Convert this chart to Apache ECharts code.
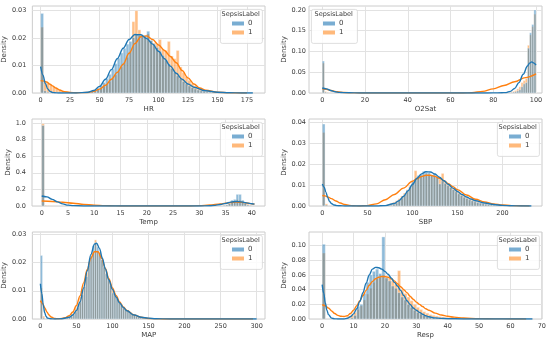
<!DOCTYPE html>
<html><head><meta charset="utf-8">
<script src="https://cdn.jsdelivr.net/npm/echarts@6/dist/echarts.min.js"></script>
<style>html,body{margin:0;padding:0;background:#fff}#c{width:549px;height:344px}</style>
</head><body><div id="c"></div>
<script>
// ================= DATA =================
const hueLabels = ['0', '1'];
const legendTitle = 'SepsisLabel';

// ---- HR ----
const hrXTicks = [0, 25, 50, 75, 100, 125, 150, 175];
const hrYTicks = [0, 0.01, 0.02, 0.03];
const hrBinWidth = 2.5, hrBinStart = 0;
const hrHist0 = [0.029,0.0008,0.0003,0.0002,0.0001,0.0001,0.0001,0,0,0,0,0,0,0,0,0.0001,0.0003,0.0006,0.001,0.0017,
  0.0027,0.0038,0.0052,0.0068,0.0087,0.0107,0.0127,0.0146,0.0163,0.0178,0.0188,0.0202,0.0215,0.021,0.0205,0.021,0.0225,0.0192,0.0178,0.0166,
  0.0152,0.0137,0.012,0.0106,0.009,0.0076,0.0063,0.0052,0.0042,0.0034,0.0026,0.002,0.0015,0.0011,0.0008,0.0006,0.0004,0.0003,0.0002,0.00015,0.0001,0.0001];
const hrHist1 = [0.024,0.004,0.0035,0.003,0.0024,0.0018,0.0012,0.0008,0.0005,0.0003,0.0002,0.0001,0.0001,0.0001,0.0001,0.0002,0.0003,0.0005,0.0008,0.0012,
  0.0017,0.0024,0.0032,0.0042,0.0053,0.0066,0.008,0.0095,0.0112,0.013,0.0152,0.026,0.030,0.023,0.021,0.0205,0.0215,0.019,0.0182,0.0175,
  0.0195,0.016,0.0155,0.0188,0.0135,0.0125,0.0155,0.0095,0.0075,0.006,0.0046,0.0035,0.0026,0.0019,0.0014,0.001,0.0007,0.0005,0.0004,0.0003,0.0002,0.0001];
const hrKdeX0 = [0,2,4,6,8,10,12,15,20,30,40,45,50,55,60,65,70,75,80,85,90,95,100,105,110,115,120,125,130,140,150,160,170,180];
const hrKdeY0 = [0.0096,0.0065,0.0035,0.0015,0.0006,0.0002,0.0001,0,0,0,0.0003,0.0009,0.0024,0.005,0.0085,0.0125,0.0163,0.0195,0.0213,0.0212,0.0198,0.0178,0.0152,0.0125,0.0098,0.0072,0.005,0.0033,0.0021,0.0008,0.0003,0.0001,0,0];
const hrKdeX1 = [0,2,5,8,10,13,16,20,25,30,40,45,50,55,60,65,70,75,80,85,90,95,100,105,110,115,120,125,130,135,140,150,160,175];
const hrKdeY1 = [0.0045,0.0044,0.004,0.0032,0.0026,0.0018,0.0011,0.0005,0.0002,0.0001,0.0002,0.0006,0.0014,0.0028,0.005,0.0075,0.0105,0.0145,0.018,0.0205,0.0208,0.0195,0.0175,0.0155,0.0133,0.011,0.0082,0.0055,0.0033,0.0018,0.001,0.0003,0.0001,0];

// ---- O2Sat ----
const o2XTicks = [0, 20, 40, 60, 80, 100];
const o2YTicks = [0, 0.05, 0.10, 0.15, 0.20];
const o2BinWidth = 1;
const o2BinLeft = [0,1,2,3,88,89,90,91,92,93,94,95,96,97,98,99];
const o2Hist0 = [0.077,0.002,0.001,0.0005,0.001,0.002,0.003,0.005,0.008,0.015,0.022,0.025,0.108,0.145,0.165,0.20];
const o2Hist1 = [0.072,0.004,0.002,0.001,0.003,0.004,0.006,0.01,0.015,0.025,0.03,0.035,0.115,0.14,0.16,0.19];
const o2KdeX0 = [0,2,4,6,8,10,15,20,40,60,75,80,84,86,88,90,92,94,96,97,98,99,100];
const o2KdeY0 = [0.012,0.01,0.006,0.003,0.0015,0.0008,0.0002,0,0,0,0,0.0002,0.0006,0.001,0.004,0.011,0.025,0.045,0.065,0.072,0.075,0.072,0.067];
const o2KdeX1 = [0,2,4,7,10,15,20,40,60,66,70,75,80,85,90,95,100];
const o2KdeY1 = [0.01,0.009,0.006,0.003,0.0012,0.0003,0,0,0,0,0.0006,0.004,0.01,0.018,0.027,0.037,0.046];

// ---- Temp ----
const tempXTicks = [0, 5, 10, 15, 20, 25, 30, 35, 40];
const tempYTicks = [0, 0.2, 0.4, 0.6, 0.8, 1.0];
const tempBinWidth = 0.5;
const tempBinLeft = [0,0.5,1,34,34.5,35,35.5,36,36.5,37,37.5,38,38.5,39,39.5,40];
const tempHist0 = [0.97,0.003,0.002,0.004,0.008,0.015,0.03,0.07,0.08,0.14,0.14,0.07,0.03,0.012,0.006,0.003];
const tempHist1 = [0.99,0.01,0.008,0.006,0.01,0.015,0.03,0.05,0.06,0.075,0.07,0.055,0.04,0.025,0.012,0.005];
const tempKdeX0 = [0,1,2,3,4,5,6,8,10,30,32,33,34,35,36,37,38,39,40,40.5];
const tempKdeY0 = [0.12,0.11,0.08,0.05,0.025,0.01,0.004,0.0005,0,0,0.003,0.008,0.018,0.032,0.047,0.055,0.05,0.038,0.027,0.022];
const tempKdeX1 = [0,2,4,6,8,10,12,14,16,28,30,32,34,35,36,37,38,39,40,40.5];
const tempKdeY1 = [0.06,0.055,0.045,0.033,0.02,0.01,0.004,0.001,0,0,0.004,0.012,0.025,0.033,0.042,0.047,0.044,0.036,0.026,0.022];

// ---- SBP ----
const sbpXTicks = [0, 50, 100, 150, 200];
const sbpYTicks = [0, 0.01, 0.02, 0.03, 0.04];
const sbpBinWidth = 3, sbpBinStart = 72;
const sbpSpike0 = [0.039, 0.0004], sbpSpike1 = [0.035, 0.001]; // bins [0,3) and [3,6)
const sbpHist0 = [0.0002,0.0004,0.0008,0.0015,0.0025,0.0038,0.0055,0.0075,0.009,0.0115,0.0128,0.0145,0.0152,0.0165,0.016,0.0158,0.0148,0.0155,0.014,0.0105,
  0.012,0.0108,0.0097,0.0088,0.0078,0.0068,0.0058,0.005,0.0042,0.0036,0.003,0.0025,0.002,0.0017,0.0014,0.0011,0.0009,0.0007,0.0005,0.0004,0.0003,0.00025,0.0002,0.0001,0.0001];
const sbpHist1 = [0.0008,0.0012,0.0018,0.0025,0.0035,0.0048,0.0062,0.0078,0.0095,0.011,0.0168,0.0135,0.0145,0.0148,0.015,0.0147,0.0145,0.014,0.0138,0.0128,
  0.0155,0.0118,0.0105,0.0095,0.0085,0.0075,0.0066,0.0057,0.0049,0.0041,0.0034,0.0028,0.0023,0.0019,0.0015,0.0012,0.001,0.0008,0.0006,0.0005,0.0004,0.0003,0.0002,0.0001,0.0001];
const sbpKdeX0 = [0,2,4,6,8,10,13,16,20,25,60,70,80,85,90,95,100,105,110,115,120,125,130,135,140,145,150,155,160,165,170,180,190,200,210,220,232];
const sbpKdeY0 = [0.0105,0.009,0.0065,0.004,0.0022,0.0012,0.0005,0.0002,0.0001,0,0,0.0002,0.0012,0.0025,0.0045,0.0072,0.0102,0.0132,0.0153,0.0163,0.0162,0.0152,0.0137,0.012,0.0102,0.0085,0.0069,0.0055,0.0043,0.0033,0.0025,0.0014,0.0007,0.0003,0.0001,0,0];
const sbpKdeX1 = [0,3,6,10,15,20,25,30,35,40,50,60,70,80,90,100,105,110,115,120,125,130,135,140,145,150,160,170,180,190,200,210,220,230];
const sbpKdeY1 = [0.005,0.0048,0.0043,0.0035,0.0024,0.0014,0.0007,0.0003,0.0001,0,0.0002,0.001,0.003,0.0055,0.0085,0.0118,0.013,0.014,0.0146,0.0146,0.0141,0.0132,0.012,0.0106,0.0092,0.0078,0.0052,0.0032,0.0019,0.001,0.0005,0.0002,0.0001,0];

// ---- MAP ----
const mapXTicks = [0, 50, 100, 150, 200, 250, 300];
const mapYTicks = [0, 0.01, 0.02, 0.03];
const mapBinWidth = 3, mapBinStart = 30;
const mapSpike0 = [0.0225, 0.0003], mapSpike1 = [0.011, 0.001];
const mapHist0 = [0.0001,0.0002,0.0003,0.0005,0.0009,0.0015,0.0025,0.004,0.006,0.0085,0.0115,0.015,0.019,0.0225,0.026,0.027,0.0255,0.0235,0.021,0.0185,
  0.016,0.0138,0.0118,0.0092,0.0085,0.0072,0.006,0.005,0.0041,0.0033,0.0027,0.0022,0.0017,0.0013,0.001,0.0008,0.0006,0.0005,0.0004,0.0003,0.0002,0.00015,0.0001];
const mapHist1 = [0.0002,0.0004,0.0007,0.0011,0.0017,0.0026,0.0038,0.0055,0.0078,0.0105,0.0135,0.0165,0.0195,0.022,0.0235,0.028,0.024,0.0235,0.021,0.0185,
  0.016,0.014,0.012,0.0105,0.009,0.0075,0.0062,0.0052,0.0043,0.0035,0.0028,0.0022,0.0017,0.0013,0.001,0.0008,0.0006,0.0004,0.0003,0.0002,0.00015,0.0001,0.0001];
const mapKdeX0 = [0,2,4,6,8,10,14,20,30,40,45,50,55,60,65,70,75,78,82,86,90,95,100,105,110,115,120,130,140,150,160,180,300];
const mapKdeY0 = [0.0125,0.009,0.005,0.0022,0.0009,0.0003,0.0001,0,0.0001,0.0006,0.0014,0.003,0.006,0.011,0.017,0.0228,0.0265,0.0268,0.025,0.0215,0.0178,0.0138,0.0105,0.0078,0.0057,0.0041,0.0029,0.0014,0.0006,0.0003,0.0001,0,0];
const mapKdeX1 = [0,3,6,9,12,15,20,25,30,35,40,45,50,55,60,65,70,75,80,85,90,95,100,105,110,115,120,130,140,150,160,170,295];
const mapKdeY1 = [0.0065,0.0055,0.004,0.0025,0.0014,0.0007,0.0002,0.0001,0.0002,0.0005,0.0012,0.0025,0.0048,0.0082,0.0128,0.0175,0.0215,0.0238,0.0238,0.0215,0.018,0.0143,0.011,0.0083,0.006,0.0043,0.003,0.0014,0.0006,0.0002,0.0001,0,0];

// ---- Resp ----
const respXTicks = [0, 10, 20, 30, 40, 50, 60, 70];
const respYTicks = [0, 0.02, 0.04, 0.06, 0.08, 0.10];
const respBinWidth = 1, respBinStart = 8;
const respSpike0 = [0.102], respSpike1 = [0.09];
const respHist0 = [0.0005,0.0015,0.005,0.017,0.02,0.035,0.05,0.06,0.065,0.068,0.062,0.112,0.056,0.052,0.045,0.042,0.036,0.03,0.026,0.02,
  0.016,0.012,0.009,0.007,0.005,0.0038,0.0028,0.002,0.0015,0.0011,0.0008,0.0006,0.0005,0.0004,0.0003,0.0002,0.0001];
const respHist1 = [0.004,0.006,0.009,0.013,0.018,0.026,0.034,0.042,0.05,0.055,0.057,0.058,0.058,0.055,0.052,0.047,0.066,0.04,0.035,0.03,
  0.025,0.02,0.016,0.013,0.01,0.008,0.006,0.005,0.004,0.0032,0.0026,0.002,0.0017,0.003,0.0012,0.0009,0.0007];
const respKdeX0 = [0,0.5,1,1.5,2,3,4,5,7,8,9,10,11,12,13,14,15,16,17,18,19,20,21,22,23,24,25,26,27,28,29,30,31,32,33,34,36,38,40,45,50,67];
const respKdeY0 = [0.047,0.035,0.022,0.012,0.006,0.0012,0.0002,0,0,0.001,0.003,0.007,0.014,0.024,0.036,0.049,0.06,0.068,0.0705,0.07,0.068,0.065,0.061,0.056,0.05,0.045,0.039,0.032,0.025,0.02,0.015,0.012,0.009,0.0065,0.0045,0.003,0.0015,0.0008,0.0004,0.0001,0,0];
const respKdeX1 = [0,1,2,3,4,5,6,7,8,9,10,11,12,13,14,15,16,17,18,19,20,21,22,23,24,25,26,27,28,29,30,31,32,33,34,36,38,40,42,45,50,55,60,65];
const respKdeY1 = [0.0195,0.018,0.015,0.011,0.0075,0.005,0.0038,0.0035,0.0045,0.0075,0.012,0.018,0.025,0.032,0.039,0.046,0.051,0.055,0.057,0.058,0.058,0.057,0.055,0.052,0.048,0.044,0.04,0.036,0.031,0.027,0.023,0.02,0.017,0.014,0.012,0.008,0.0055,0.0037,0.0025,0.0013,0.0005,0.0002,0.0001,0];

// ================= BUILD =================
function lefts(start, width, n) { const a = []; for (let i = 0; i < n; i++) a.push(start + i * width); return a; }
function bins(leftArr, width, heights) { return heights.map((h, i) => [leftArr[i], leftArr[i] + width, h]); }

const panels = [
  { xName: 'HR', xMin: -7, xMax: 190.3, yMax: 0.0317, xTicks: hrXTicks, yTicks: hrYTicks, yDec: 2, legendLeft: false,
    b0: bins(lefts(hrBinStart, hrBinWidth, hrHist0.length), hrBinWidth, hrHist0),
    b1: bins(lefts(hrBinStart, hrBinWidth, hrHist1.length), hrBinWidth, hrHist1),
    k0: [hrKdeX0, hrKdeY0], k1: [hrKdeX1, hrKdeY1] },
  { xName: 'O2Sat', xMin: -6.2, xMax: 102.8, yMax: 0.2096, xTicks: o2XTicks, yTicks: o2YTicks, yDec: 2, legendLeft: true,
    b0: bins(o2BinLeft, o2BinWidth, o2Hist0), b1: bins(o2BinLeft, o2BinWidth, o2Hist1),
    k0: [o2KdeX0, o2KdeY0], k1: [o2KdeX1, o2KdeY1] },
  { xName: 'Temp', xMin: -1.85, xMax: 42.5, yMax: 1.048, xTicks: tempXTicks, yTicks: tempYTicks, yDec: 1, legendLeft: false,
    b0: bins(tempBinLeft, tempBinWidth, tempHist0), b1: bins(tempBinLeft, tempBinWidth, tempHist1),
    k0: [tempKdeX0, tempKdeY0], k1: [tempKdeX1, tempKdeY1] },
  { xName: 'SBP', xMin: -14.8, xMax: 243.8, yMax: 0.0414, xTicks: sbpXTicks, yTicks: sbpYTicks, yDec: 2, legendLeft: false,
    b0: bins([0, 3], sbpBinWidth, sbpSpike0).concat(bins(lefts(sbpBinStart, sbpBinWidth, sbpHist0.length), sbpBinWidth, sbpHist0)),
    b1: bins([0, 3], sbpBinWidth, sbpSpike1).concat(bins(lefts(sbpBinStart, sbpBinWidth, sbpHist1.length), sbpBinWidth, sbpHist1)),
    k0: [sbpKdeX0, sbpKdeY0], k1: [sbpKdeX1, sbpKdeY1] },
  { xName: 'MAP', xMin: -11.1, xMax: 311.6, yMax: 0.0308, xTicks: mapXTicks, yTicks: mapYTicks, yDec: 2, legendLeft: false,
    b0: bins([0, 3], mapBinWidth, mapSpike0).concat(bins(lefts(mapBinStart, mapBinWidth, mapHist0.length), mapBinWidth, mapHist0)),
    b1: bins([0, 3], mapBinWidth, mapSpike1).concat(bins(lefts(mapBinStart, mapBinWidth, mapHist1.length), mapBinWidth, mapHist1)),
    k0: [mapKdeX0, mapKdeY0], k1: [mapKdeX1, mapKdeY1] },
  { xName: 'Resp', xMin: -4.2, xMax: 70.0, yMax: 0.1187, xTicks: respXTicks, yTicks: respYTicks, yDec: 2, legendLeft: false,
    b0: bins([0], respBinWidth, respSpike0).concat(bins(lefts(respBinStart, respBinWidth, respHist0.length), respBinWidth, respHist0)),
    b1: bins([0], respBinWidth, respSpike1).concat(bins(lefts(respBinStart, respBinWidth, respHist1.length), respBinWidth, respHist1)),
    k0: [respKdeX0, respKdeY0], k1: [respKdeX1, respKdeY1] }
];

const BLUE = '#1f77b4', ORANGE = '#ff7f0e';
const BLUE_FILL = 'rgba(31,119,180,0.5)', ORANGE_FILL = 'rgba(255,127,14,0.5)';
const FONT = 'DejaVu Sans';
const TXT = '#3a3a3a';
const colLeft = [32, 309], rowTop = [6, 119, 232], GW = 233, GH = 87;

function makeRender(fill) {
  return function (params, api) {
    const x0 = api.value(0), x1 = api.value(1), h = api.value(2);
    const a = api.coord([x0, h]), b = api.coord([x1, 0]);
    return { type: 'rect', shape: { x: a[0], y: a[1], width: b[0] - a[0], height: b[1] - a[1] },
      style: { fill: fill, stroke: 'rgba(255,255,255,0.85)', lineWidth: 0.4 } };
  };
}

const grid = [], xAxis = [], yAxis = [], series = [], legend = [], graphic = [];
panels.forEach((p, i) => {
  const col = i % 2, row = Math.floor(i / 2);
  const gl = colLeft[col], gt = rowTop[row];
  grid.push({ left: gl, top: gt, width: GW, height: GH, show: true, borderColor: '#cccccc', borderWidth: 1, backgroundColor: '#fff' });
  xAxis.push({ type: 'value', gridIndex: i, min: p.xMin, max: p.xMax, name: p.xName, nameLocation: 'middle', nameGap: 13,
    nameTextStyle: { fontFamily: FONT, fontSize: 7, color: TXT },
    axisLine: { show: false }, axisTick: { show: false, customValues: p.xTicks },
    axisLabel: { customValues: p.xTicks, fontFamily: FONT, fontSize: 6.5, color: TXT, margin: 4, formatter: v => String(v) },
    splitLine: { show: true, lineStyle: { color: '#e2e2e2', width: 1 } } });
  yAxis.push({ type: 'value', gridIndex: i, min: 0, max: p.yMax, name: 'Density', nameLocation: 'middle', nameGap: col === 0 ? 20 : 15,
    nameTextStyle: { fontFamily: FONT, fontSize: 7, color: TXT },
    axisLine: { show: false }, axisTick: { show: false, customValues: p.yTicks },
    axisLabel: { customValues: p.yTicks, fontFamily: FONT, fontSize: 6.5, color: TXT, margin: col === 0 ? 6 : 3, formatter: v => v.toFixed(p.yDec) },
    splitLine: { show: true, lineStyle: { color: '#e2e2e2', width: 1 } } });
  series.push({ type: 'custom', name: hueLabels[1], xAxisIndex: i, yAxisIndex: i, renderItem: makeRender(ORANGE_FILL),
    data: p.b1, encode: { x: [0, 1], y: 2 }, z: 2, silent: true, clip: true });
  series.push({ type: 'custom', name: hueLabels[0], xAxisIndex: i, yAxisIndex: i, renderItem: makeRender(BLUE_FILL),
    data: p.b0, encode: { x: [0, 1], y: 2 }, z: 2, silent: true, clip: true });
  series.push({ type: 'line', name: hueLabels[1], xAxisIndex: i, yAxisIndex: i, data: p.k1[0].map((x, j) => [x, p.k1[1][j]]),
    showSymbol: false, smooth: 0.35, smoothMonotone: 'x', lineStyle: { color: ORANGE, width: 1.4 }, itemStyle: { color: ORANGE }, z: 3, silent: true });
  series.push({ type: 'line', name: hueLabels[0], xAxisIndex: i, yAxisIndex: i, data: p.k0[0].map((x, j) => [x, p.k0[1][j]]),
    showSymbol: false, smooth: 0.35, smoothMonotone: 'x', lineStyle: { color: BLUE, width: 1.4 }, itemStyle: { color: BLUE }, z: 3, silent: true });

  // legend box
  const bw = p.legendLeft ? 46 : 42, bh = 34;
  const bx = p.legendLeft ? gl + 2 : gl + GW - 3 - bw, by = gt + 3;
  graphic.push({ type: 'rect', left: bx, top: by, shape: { width: bw, height: bh, r: 2 }, z: 10,
    style: { fill: 'rgba(255,255,255,0.85)', stroke: '#d6d6d6', lineWidth: 0.8 } });
  graphic.push({ type: 'text', left: bx + bw / 2 - 19.5, top: by + 2, z: 11,
    style: { text: legendTitle, fontFamily: FONT, fontSize: 6.5, fill: TXT } });
  legend.push({ left: bx + 12, top: by + 11, orient: 'vertical', itemWidth: 12, itemHeight: 4, itemGap: 2, padding: 0, z: 12,
    selectedMode: false, icon: 'rect', textStyle: { fontFamily: FONT, fontSize: 7, color: TXT, padding: [0, 0, 0, -1] },
    data: [{ name: hueLabels[0], itemStyle: { color: 'rgba(31,119,180,0.6)' } }, { name: hueLabels[1], itemStyle: { color: 'rgba(255,127,14,0.55)' } }] });
});

const chart = echarts.init(document.getElementById('c'), null, { renderer: 'canvas' });
chart.setOption({ animation: false, backgroundColor: '#fff', grid, xAxis, yAxis, series, legend, graphic });
</script></body></html>
